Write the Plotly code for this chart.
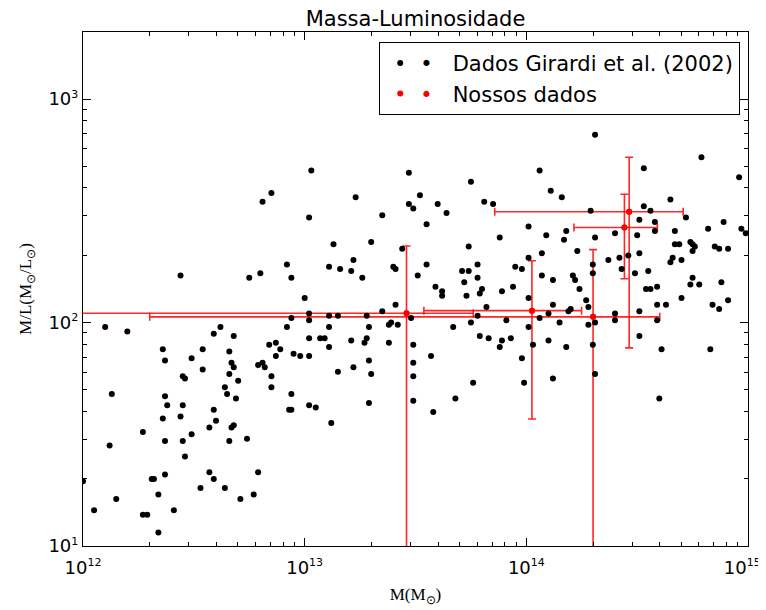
import numpy as np
import plotly.graph_objects as go

# Girardi et al. (2002): log10 M (M_sun) and log10 M/L (M_sun/L_sun)
log_mass_girardi = [
    12.00, 12.05, 12.10, 12.13, 12.12, 12.15, 12.20, 12.27, 12.27, 12.29,
    12.31, 12.32, 12.34, 12.34, 12.36, 12.37, 12.37, 12.38, 12.36, 12.37,
    12.37, 12.41, 12.44, 12.45, 12.46, 12.45, 12.44, 12.45, 12.46, 12.49,
    12.49, 12.53, 12.54, 12.54, 12.57, 12.59, 12.59, 12.60, 12.57, 12.59,
    12.62, 12.64, 12.65, 12.66, 12.67, 12.68, 12.66, 12.70, 12.69, 12.67,
    12.68, 12.66, 12.64, 12.68, 12.71, 12.74, 12.77, 12.79, 12.75, 12.80,
    12.81, 12.85, 12.79, 12.81, 12.82, 12.84, 12.87, 12.87, 12.89, 12.85,
    12.85, 12.92, 12.94, 12.92, 12.94, 12.95, 12.98, 12.94, 12.93, 12.94,
    13.00, 13.02, 13.02, 13.02, 13.02, 13.02, 13.02, 13.03, 13.47, 13.75,
    13.23, 13.52, 13.47, 13.49, 13.60, 13.64, 13.81, 13.85, 13.35, 13.55,
    14.01, 13.13, 13.30, 13.44, 13.74, 13.88, 14.01, 13.11, 13.16, 13.21,
    13.22, 13.26, 13.40, 13.41, 13.55, 13.51, 13.71, 13.74, 13.78, 13.78,
    13.72, 13.59, 13.62, 13.62, 13.80, 13.79, 13.73, 13.89, 13.94, 13.95,
    13.98, 14.01, 13.41, 13.82, 13.35, 13.11, 13.15, 13.28, 13.48, 13.11,
    13.29, 13.38, 13.39, 13.42, 13.67, 13.75, 13.78, 13.91, 13.07, 13.09,
    13.28, 13.79, 13.83, 13.89, 13.93, 14.01, 13.11, 13.21, 13.27, 13.38,
    13.29, 13.30, 13.15, 13.22, 13.05, 13.29, 13.12, 13.49, 13.49, 13.49,
    13.49, 13.57, 13.58, 13.68, 13.76, 13.88, 13.98, 13.99,
    14.31, 14.79, 14.06, 14.53, 14.96, 14.11, 14.16, 14.65, 14.53, 14.56,
    14.29, 14.72, 14.51, 14.58, 14.58, 14.82, 14.89, 14.97, 14.99, 14.18,
    14.09, 14.17, 14.31, 14.40, 14.50, 14.67, 14.67, 14.69, 14.74, 14.75,
    14.76, 14.75, 14.85, 14.87, 14.91, 14.07, 14.23, 14.07, 14.12, 14.21,
    14.22, 14.24, 14.30, 14.30, 14.37, 14.42, 14.43, 14.46, 14.51, 14.49,
    14.55, 14.65, 14.66, 14.70, 14.75, 14.74, 14.78, 14.88, 14.54, 14.56,
    14.59, 14.70, 14.59, 14.63, 14.84, 14.87, 14.91, 14.12, 14.19, 14.20,
    14.27, 14.28, 14.10, 14.06, 14.15, 14.40, 14.40, 14.51, 14.59, 14.28,
    14.31, 14.10, 14.51, 14.03, 14.12, 14.18, 14.30, 14.31, 14.61, 14.60,
    14.83,
]
log_ml_girardi = [
    1.29, 1.16, 1.98, 1.68, 1.45, 1.21, 1.96, 1.51, 1.14, 1.14,
    1.30, 1.30, 1.06, 1.23, 1.88, 1.83, 1.67, 1.63, 1.57, 1.47,
    1.32, 1.16, 2.21, 1.76, 1.75, 1.63, 1.58, 1.47, 1.40, 1.84,
    1.50, 1.26, 1.88, 1.79, 1.33, 1.30, 1.61, 1.56, 1.53, 1.95,
    1.98, 1.71, 1.68, 1.87, 1.82, 1.80, 1.77, 1.74, 1.66, 1.53,
    1.54, 1.47, 1.26, 1.94, 1.21, 1.48, 1.23, 1.33, 2.20, 2.22,
    2.54, 2.58, 1.81, 1.82, 1.80, 1.90, 1.91, 1.85, 1.88, 1.76,
    1.71, 2.26, 2.20, 1.98, 2.02, 1.86, 1.85, 1.68, 1.61, 1.61,
    2.11, 2.47, 2.04, 2.01, 1.93, 1.85, 1.63, 2.68, 2.67, 2.63,
    2.56, 2.57, 2.53, 2.51, 2.53, 2.49, 2.54, 2.53, 2.48, 2.44,
    2.43, 2.35, 2.36, 2.33, 2.34, 2.38, 2.29, 2.25, 2.24, 2.23,
    2.28, 2.20, 2.25, 2.24, 2.26, 2.21, 2.23, 2.23, 2.26, 2.20,
    2.18, 2.16, 2.14, 2.12, 2.15, 2.13, 2.12, 2.14, 2.16, 2.25,
    2.24, 2.11, 2.08, 2.07, 2.05, 2.03, 2.03, 2.03, 2.02, 1.98,
    1.98, 1.99, 2.00, 1.99, 1.98, 2.00, 2.03, 2.01, 1.93, 1.93,
    1.93, 1.94, 1.93, 1.92, 1.93, 1.98, 1.89, 1.92, 1.91, 1.91,
    1.83, 1.77, 1.78, 1.80, 1.62, 1.64, 1.55, 1.90, 1.82, 1.76,
    1.65, 1.85, 1.60, 1.66, 1.73, 1.89, 1.84, 1.73,
    2.84, 2.74, 2.68, 2.69, 2.65, 2.59, 2.56, 2.55, 2.52, 2.50,
    2.50, 2.47, 2.46, 2.45, 2.41, 2.42, 2.45, 2.42, 2.40, 2.41,
    2.39, 2.37, 2.38, 2.40, 2.39, 2.41, 2.35, 2.35, 2.36, 2.35,
    2.34, 2.32, 2.34, 2.33, 2.33, 2.31, 2.32, 2.21, 2.19, 2.21,
    2.19, 2.15, 2.26, 2.22, 2.28, 2.29, 2.24, 2.30, 2.31, 2.22,
    2.23, 2.27, 2.29, 2.28, 2.20, 2.17, 2.17, 2.18, 2.15, 2.15,
    2.16, 2.11, 2.08, 2.08, 2.08, 2.06, 2.10, 2.08, 2.05, 2.06,
    2.10, 2.07, 2.04, 2.02, 2.00, 2.04, 2.01, 2.05, 2.01, 1.99,
    2.00, 1.92, 1.94, 1.90, 1.75, 1.89, 1.90, 1.77, 1.88, 1.66,
    1.88,
]

# Nossos dados (with error bars)
mass_ours = [2.88e13, 1.06e14, 2.00e14, 2.91e14, 2.77e14]
mass_err_plus = [2.88e13, 7.15e13, 2.00e14, 2.19e14, 1.13e14]
mass_err_minus = [2.85e13, 7.15e13, 1.98e14, 2.19e14, 1.13e14]
ml_ours = [110, 113, 106, 313, 266]
ml_err_plus = [110, 76, 106, 236, 109]
ml_err_minus = [108, 76, 104, 236, 109]

# tick labels (small superscripts like matplotlib's mathtext)
SUP = "<sup><span style='font-size:11px'>{}</span></sup>"
x_tick_vals = [1e12, 1e13, 1e14, 1e15]
x_tick_text = ["10" + SUP.format(12), "10" + SUP.format(13), "10" + SUP.format(14),
               "10" + SUP.format(15) + "\u00a0\u00a0"]
y_tick_vals = [1e1, 1e2, 1e3]
y_tick_text = ["10" + SUP.format(1), "10" + SUP.format(2), "10" + SUP.format(3)]

mass_girardi = 10 ** np.array(log_mass_girardi)
ml_girardi = 10 ** np.array(log_ml_girardi)


def _minor_ticks(low_exp, high_exp):
    """2..9 times each power of ten, for the log minor ticks."""
    return [m * 10.0**e for e in range(low_exp, high_exp) for m in range(2, 10)]


fig = go.Figure()

# error bars first, the Girardi points sit on top of them
fig.add_trace(
    go.Scatter(
        x=mass_ours,
        y=ml_ours,
        mode="markers",
        marker={"color": "red", "size": 6},
        error_x={
            "type": "data",
            "symmetric": False,
            "array": mass_err_plus,
            "arrayminus": mass_err_minus,
            "color": "rgba(255,0,0,0.85)",
            "thickness": 1.6,
            "width": 4,
        },
        error_y={
            "type": "data",
            "symmetric": False,
            "array": ml_err_plus,
            "arrayminus": ml_err_minus,
            "color": "rgba(255,0,0,0.85)",
            "thickness": 1.6,
            "width": 4,
        },
        showlegend=False,
    )
)
fig.add_trace(
    go.Scatter(
        x=mass_girardi,
        y=ml_girardi,
        mode="markers",
        marker={"color": "black", "size": 6},
        name="<span style='color:black'>\u2022</span>\u00a0\u00a0\u00a0Dados Girardi et al. (2002)",
    )
)
fig.add_trace(
    go.Scatter(
        x=mass_ours,
        y=ml_ours,
        mode="markers",
        marker={"color": "red", "size": 6},
        name="<span style='color:red'>\u2022</span>\u00a0\u00a0\u00a0Nossos dados",
    )
)

axis_style = {
    "type": "log",
    "showgrid": False,
    "zeroline": False,
    "showline": True,
    "linecolor": "black",
    "linewidth": 1.2,
    "mirror": "allticks",
    "ticks": "inside",
    "ticklen": 8,
    "tickcolor": "black",
    "tickmode": "array",
    "automargin": False,
    "ticklabeloverflow": "allow",
    "tickfont": {"family": "DejaVu Sans", "size": 18, "color": "black"},
}

fig.update_xaxes(
    axis_style,
    range=[12, 15],
    tickvals=x_tick_vals,
    ticktext=x_tick_text,
    ticklabelstandoff=5,
    minor={"tickmode": "array", "tickvals": _minor_ticks(12, 15), "ticks": "inside",
           "ticklen": 4, "tickcolor": "black", "showgrid": False},
    title={
        "text": "M(M<sub>\u2299</sub>)",
        "font": {"family": "Liberation Serif", "size": 17, "color": "black"},
        "standoff": 11,
    },
)
fig.update_yaxes(
    axis_style,
    range=[1, 3.3],
    tickvals=y_tick_vals,
    ticktext=y_tick_text,
    minor={"tickmode": "array", "tickvals": _minor_ticks(1, 4), "ticks": "inside",
           "ticklen": 4, "tickcolor": "black", "showgrid": False},
    title={
        "text": "M/L(M<sub>\u2299</sub>/L<sub>\u2299</sub>)",
        "font": {"family": "Liberation Serif", "size": 17, "color": "black"},
        "standoff": 12,
    },
)

# the page body adds an 8px offset; margins are shifted to compensate
fig.update_layout(
    width=758,
    height=602,
    margin={"l": 75, "r": 18, "t": 24, "b": 64},
    paper_bgcolor="white",
    plot_bgcolor="white",
    title={
        "text": "Massa-Luminosidade",
        "x": 0.5,
        "xref": "paper",
        "y": 1 - 11 / 602,
        "yanchor": "middle",
        "font": {"family": "DejaVu Sans", "size": 21, "color": "black"},
    },
    legend={
        "x": 0.988,
        "y": 0.981,
        "xanchor": "right",
        "yanchor": "top",
        "bordercolor": "black",
        "borderwidth": 1.2,
        "bgcolor": "white",
        "font": {"family": "DejaVu Sans", "size": 21, "color": "black"},
    },
)

fig.write_html("out.html")
